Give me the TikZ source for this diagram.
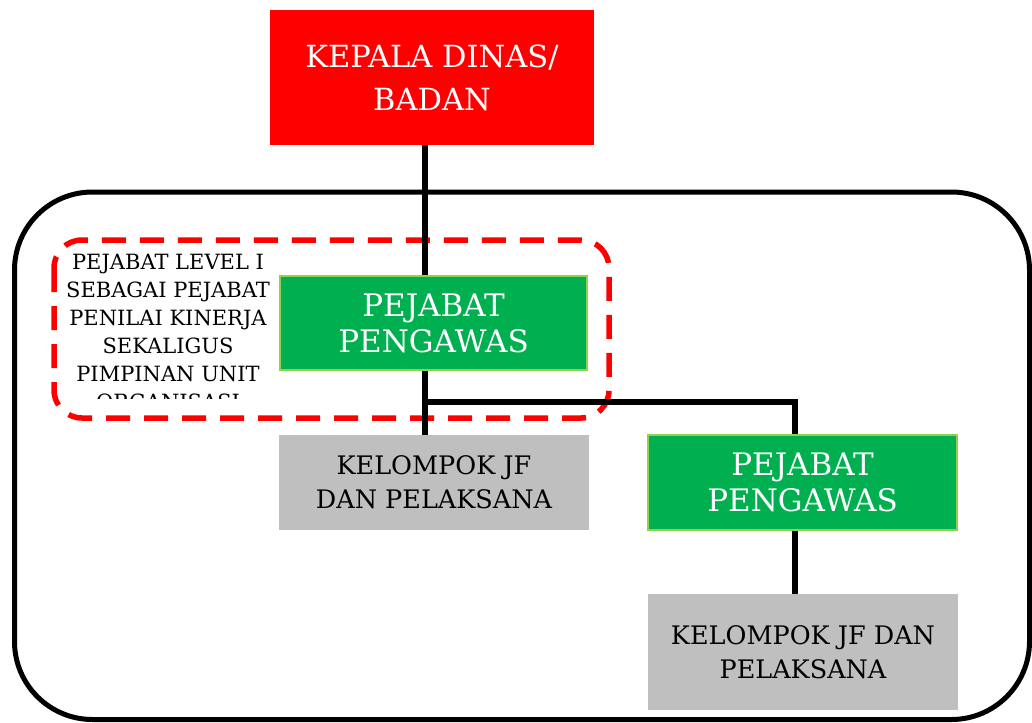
\documentclass[tikz,border=0pt]{standalone}
\usepackage{fontspec}
\setmainfont{DejaVu Serif}
\definecolor{headred}{RGB}{255,0,0}
\definecolor{boxgreen}{RGB}{0,176,80}
\definecolor{rimgreen}{RGB}{146,208,80}
\definecolor{boxgray}{RGB}{191,191,191}
\begin{document}
\begin{tikzpicture}[x=1pt,y=-1pt,
  base/.style={rectangle,inner sep=0pt,align=center},
  headbox/.style={base,fill=headred,text=white,minimum width=324pt,minimum height=135pt,
    font=\fontsize{30.5}{43}\selectfont},
  leadbox/.style={base,fill=boxgreen,draw=rimgreen,line width=2pt,text=white,
    minimum width=307pt,minimum height=94pt,font=\fontsize{31}{36}\selectfont},
  staffbox/.style={base,fill=boxgray,text=black,minimum width=310pt,
    font=\fontsize{25.5}{34}\selectfont},
  link/.style={line width=5.5pt,draw=black},
  frame/.style={line width=5pt,draw=black,rounded corners=78pt},
  scopefr/.style={line width=5.5pt,draw=headred,dash pattern=on 24pt off 14pt,rounded corners=28pt}
]
\useasboundingbox (0,0) rectangle (1032,722);
\fill[white] (0,0) rectangle (1032,722);

% outer frame and dashed level-one scope
\draw[frame] (14.5,192) rectangle (1029.5,719.5);
\draw[scopefr] (54,240) rectangle (609,418);

% label of the dashed scope, cut off at its lower edge
\begin{scope}
  \clip (60,245) rectangle (290,398);
  \node[base,anchor=north,font=\fontsize{21}{28}\selectfont] (note) at (168,254)
    {PEJABAT LEVEL I\\SEBAGAI PEJABAT\\PENILAI KINERJA\\SEKALIGUS\\PIMPINAN UNIT\\ORGANISASI};
\end{scope}

% boxes
\node[headbox] (head) at (432,77.5) {KEPALA DINAS/\\BADAN};
\node[leadbox] (leadA) at (433.5,323) {PEJABAT\\PENGAWAS};
\node[staffbox,minimum height=95pt] (staffA) at (434,482.5) {KELOMPOK JF\\DAN PELAKSANA};
\node[leadbox,minimum width=309pt,minimum height=95pt] (leadB) at (802.5,482.5) {PEJABAT\\PENGAWAS};
\node[staffbox,minimum height=116pt] (staffB) at (803,652) {KELOMPOK JF DAN\\PELAKSANA};

% connectors
\coordinate (trunk) at (425,0);
\coordinate (side) at (795,0);
\coordinate (fork) at (425,402);
\draw[link] (head.south -| trunk) -- (leadA.north -| trunk);
\draw[link] (leadA.south -| trunk) -- (staffA.north -| trunk);
\draw[link] ([xshift=-2.75pt]fork) -| (leadB.north -| side);
\draw[link] (leadB.south -| side) -- (staffB.north -| side);
\end{tikzpicture}
\end{document}
